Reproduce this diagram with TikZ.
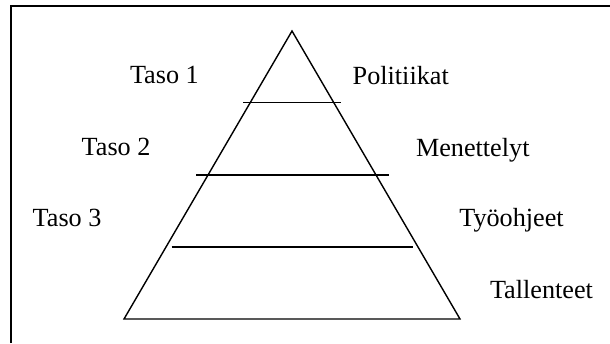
\documentclass[tikz,border=0pt]{standalone}
\usepackage{fontspec}
\setmainfont{Liberation Serif}
\tikzset{
  lbl/.style={anchor=base west, inner sep=0pt, outer sep=0pt, font=\fontsize{26.3}{30}\selectfont},
  tri/.style={line width=1.4bp, line join=miter},
  frame/.style={line width=2bp},
  level/.style={line width=1.6bp}
}
\begin{document}
\begin{tikzpicture}[x=1bp,y=-1bp]
\useasboundingbox (0,0) rectangle (610,343);
% frame (top and left edges)
\coordinate (fbl) at (11,343);
\coordinate (ftl) at (11,6);
\coordinate (ftr) at (610,6);
\draw[frame] (fbl) -- (ftl) -- (ftr);
% pyramid
\coordinate (apex) at (292,31);
\coordinate (bl) at (124,319);
\coordinate (br) at (460,319);
\draw[tri] (apex) -- (bl) -- (br) -- cycle;
% level lines
\coordinate (l1a) at (243,102.6);
\coordinate (l1b) at (341,102.6);
\coordinate (l2a) at (196,175);
\coordinate (l2b) at (389,175);
\coordinate (l3a) at (171.5,247.2);
\coordinate (l3b) at (412.7,247.2);
\draw[level] (l1a) -- (l1b);
\draw[level] (l2a) -- (l2b);
\draw[level] (l3a) -- (l3b);
% labels
\node[lbl] (t1) at (130,83.5) {Taso 1};
\node[lbl] (t2) at (81.7,155.5) {Taso 2};
\node[lbl] (t3) at (32.7,226.7) {Taso 3};
\node[lbl] (p) at (352.7,84) {Politiikat};
\node[lbl] (m) at (416,156) {Menettelyt};
\node[lbl] (ty) at (459.3,226.7) {Työohjeet};
\node[lbl] (ta) at (490,298.3) {Tallenteet};
\end{tikzpicture}
\end{document}
